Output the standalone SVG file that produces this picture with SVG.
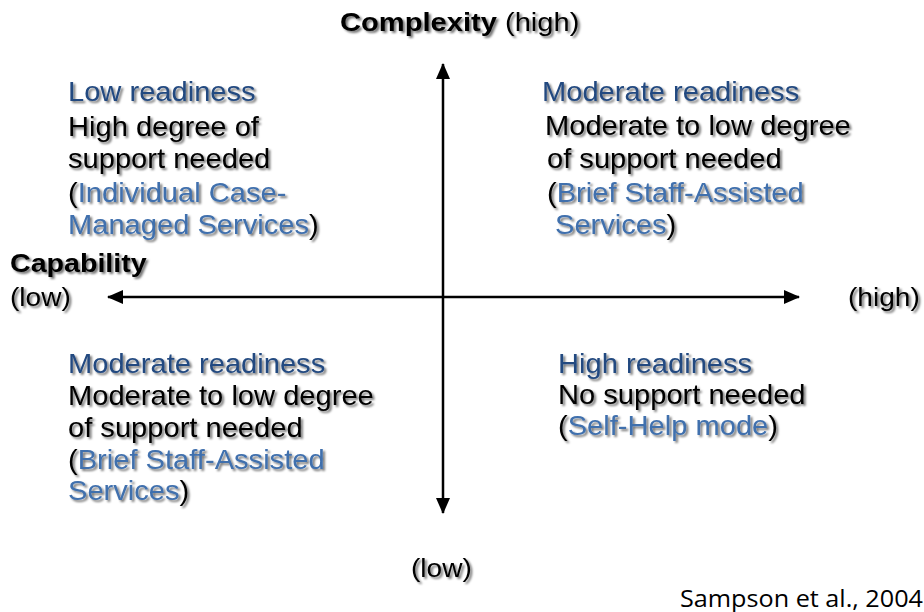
<svg xmlns="http://www.w3.org/2000/svg" width="924" height="612" viewBox="0 0 924 612">
<style>
.t{font-family:"Liberation Sans",Arial,sans-serif;font-size:28px;fill:#000;filter:url(#sh)}
.a{font-size:26px}
.b{font-weight:bold}
.h{fill:#244a80}
.s{fill:#3f6fad}
.ax{stroke:#000;stroke-width:2.5;fill:none}
.cite{font-family:"Open Sans","Noto Sans",sans-serif;font-size:24px;fill:#000}
</style>
<defs>
<filter id="sh" x="-5%" y="-20%" width="115%" height="150%">
<feDropShadow dx="2" dy="2" stdDeviation="1.1" flood-color="#000" flood-opacity="0.55"/>
</filter>
<marker id="ar" viewBox="0 0 16 14" refX="15" refY="7" markerWidth="16" markerHeight="14" markerUnits="userSpaceOnUse" orient="auto-start-reverse">
<path d="M0,0 L16,7 L0,14 Z" fill="#000"/>
</marker>
</defs>
<rect width="924" height="612" fill="#fff"/>
<g id="connectors">
<line class="ax" x1="443" y1="513" x2="443" y2="64" marker-start="url(#ar)" marker-end="url(#ar)"/>
<line class="ax" x1="108" y1="297" x2="799" y2="297" marker-start="url(#ar)" marker-end="url(#ar)"/>
</g>
<g id="axis-top">
<text class="t a" transform="translate(340,31) scale(1.12,1)"><tspan class="b">Complexity</tspan> (high)</text>
</g>
<g id="axis-left">
<text class="t a b" transform="translate(10,272) scale(1.1,1)">Capability</text>
<text class="t a" transform="translate(10,306) scale(1.08,1)">(low)</text>
</g>
<g id="axis-right">
<text class="t a" transform="translate(848,306) scale(1.08,1)">(high)</text>
</g>
<g id="axis-bottom">
<text class="t a" transform="translate(411,577) scale(1.08,1)">(low)</text>
</g>
<g id="q-top-left">
<text class="t h" transform="translate(68,101) scale(1.04,1)">Low readiness</text>
<text class="t" transform="translate(68,136) scale(1.04,1)">High degree of</text>
<text class="t" transform="translate(68,168) scale(1.04,1)">support needed</text>
<text class="t" transform="translate(68,202) scale(1.04,1)">(<tspan class="s">Individual Case-</tspan></text>
<text class="t" transform="translate(68,234) scale(1.04,1)"><tspan class="s">Managed Services</tspan>)</text>
</g>
<g id="q-top-right">
<text class="t h" transform="translate(542,101) scale(1.04,1)">Moderate readiness</text>
<text class="t" transform="translate(545,135) scale(1.04,1)">Moderate to low degree</text>
<text class="t" transform="translate(547,168) scale(1.04,1)">of support needed</text>
<text class="t" transform="translate(547,202) scale(1.04,1)">(<tspan class="s">Brief Staff-Assisted</tspan></text>
<text class="t" transform="translate(555,234) scale(1.04,1)"><tspan class="s">Services</tspan>)</text>
</g>
<g id="q-bottom-left">
<text class="t h" transform="translate(68,373) scale(1.04,1)">Moderate readiness</text>
<text class="t" transform="translate(68,405) scale(1.04,1)">Moderate to low degree</text>
<text class="t" transform="translate(68,437) scale(1.04,1)">of support needed</text>
<text class="t" transform="translate(68,469) scale(1.04,1)">(<tspan class="s">Brief Staff-Assisted</tspan></text>
<text class="t" transform="translate(68,500) scale(1.04,1)"><tspan class="s">Services</tspan>)</text>
</g>
<g id="q-bottom-right">
<text class="t h" transform="translate(558,373) scale(1.04,1)">High readiness</text>
<text class="t" transform="translate(558,404) scale(1.04,1)">No support needed</text>
<text class="t" transform="translate(558,435) scale(1.04,1)">(<tspan class="s">Self-Help mode</tspan>)</text>
</g>
<g id="citation">
<text class="cite" transform="translate(680,607) scale(1.05,1)">Sampson et al., 2004</text>
</g>
</svg>
